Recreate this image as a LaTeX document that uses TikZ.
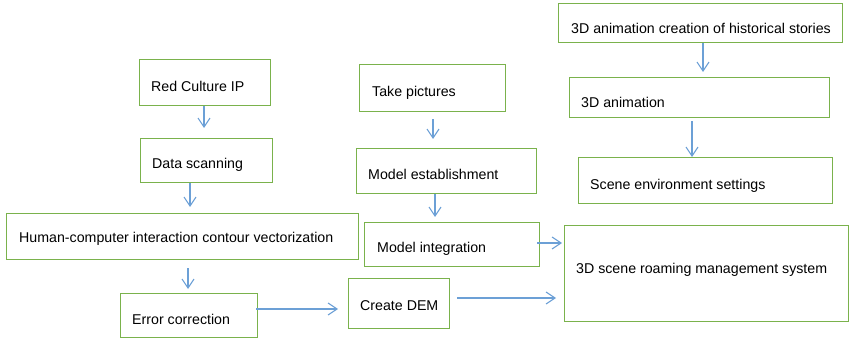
\documentclass[tikz,border=0pt]{standalone}
\usepackage{fontspec}
\setmainfont{Liberation Sans}
\usetikzlibrary{arrows.meta,calc}
\definecolor{boxgreen}{RGB}{122,178,76}
\definecolor{arrblue}{RGB}{108,160,214}
\tikzset{
  box/.style={draw=boxgreen, line width=1.4pt, fill=white, rectangle, inner sep=0pt, anchor=north west},
  txt/.style={anchor=base west, inner sep=0pt, font=\fontsize{14.2pt}{16pt}\selectfont, text=black},
  arr/.style={draw=arrblue, line width=1.1pt, -{Straight Barb[length=9pt,width=12pt,line width=1.1pt]}}
}
\newcommand{\mkbox}[8]{%
  \pgfmathsetmacro{\bw}{#4-#2}\pgfmathsetmacro{\bh}{#5-#3}%
  \node[box, minimum width=\bw pt, minimum height=\bh pt] (#1) at (#2,#3) {};
  \node[txt] (#1t) at (#6,#7) {#8};}
\begin{document}
\begin{tikzpicture}[x=1pt,y=-1pt]
\useasboundingbox (0,0) rectangle (849,339);
\mkbox{rc}{139}{59}{270}{105}{151}{92}{Red Culture IP}
\mkbox{ds}{140}{138}{272}{182}{152}{169}{Data scanning}
\mkbox{hc}{6}{213}{358}{259}{19}{243}{Human-computer interaction contour vectorization}
\mkbox{ec}{120}{293}{257}{337}{132}{324}{Error correction}
\mkbox{tp}{359}{64}{505}{111}{372}{97}{Take pictures}
\mkbox{me}{356}{148}{536}{193}{368}{180}{Model establishment}
\mkbox{mi}{364}{222}{539}{266}{377}{253}{Model integration}
\mkbox{dem}{348}{278}{449}{328}{360}{310}{Create DEM}
\mkbox{aa}{558}{3}{842}{42}{571}{34}{3D animation creation of historical stories}
\mkbox{ab}{569}{77}{829}{117}{581}{108}{3D animation}
\mkbox{se}{578}{157}{832}{203}{590}{190}{Scene environment settings}
\mkbox{sys}{564}{225}{848}{321}{576}{273}{3D scene roaming management system}
\coordinate (x1) at (204,0);
\coordinate (x2) at (190,0);
\coordinate (x3) at (188,0);
\coordinate (x4) at (433,0);
\coordinate (x5) at (435,0);
\coordinate (x6) at (703,0);
\coordinate (x7) at (692,0);
\coordinate (y1) at (0,309);
\coordinate (y2) at (0,243);
\coordinate (y3) at (0,298);
\draw[arr, shorten >=10pt] (rc.south -| x1) -- (ds.north -| x1);
\draw[arr, shorten >=6pt] (ds.south -| x2) -- (hc.north -| x2);
\draw[arr, shorten <=8pt, shorten >=4pt] (hc.south -| x3) -- (ec.north -| x3);
\draw[arr, shorten <=-2pt, shorten >=10pt] (ec.east |- y1) -- (dem.west |- y1);
\draw[arr, shorten <=7pt, shorten >=9pt] (tp.south -| x4) -- (me.north -| x4);
\draw[arr, shorten >=5pt] (me.south -| x5) -- (mi.north -| x5);
\draw[arr, shorten <=-3pt, shorten >=2pt] (mi.east |- y2) -- (sys.west |- y2);
\draw[arr, shorten <=7pt, shorten >=8pt] (dem.east |- y3) -- (sys.west |- y3);
\draw[arr, shorten >=5pt] (aa.south -| x6) -- (ab.north -| x6);
\draw[arr, shorten <=3pt] (ab.south -| x7) -- (se.north -| x7);
\end{tikzpicture}
\end{document}
